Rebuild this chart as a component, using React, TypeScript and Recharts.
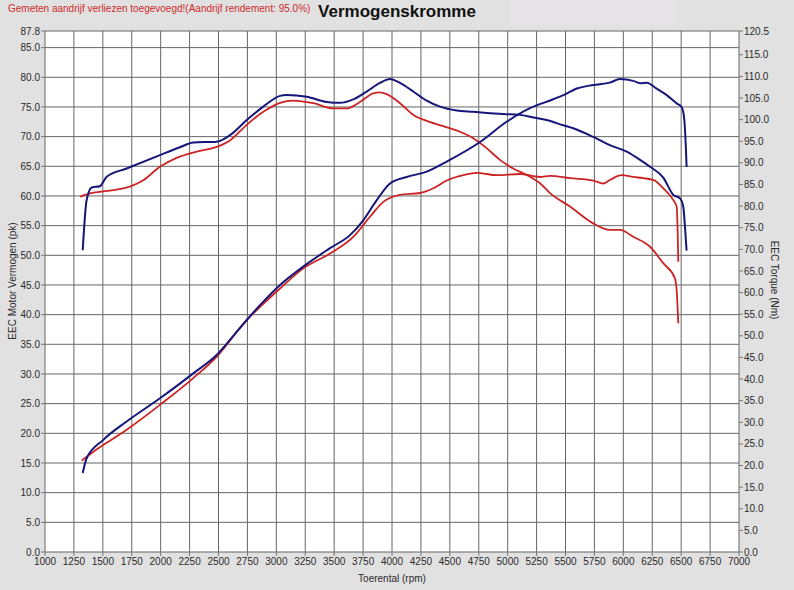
import { LineChart, Line, XAxis, YAxis, CartesianGrid } from 'recharts';

const X_TICKS = [1000, 1250, 1500, 1750, 2000, 2250, 2500, 2750, 3000, 3250, 3500, 3750, 4000, 4250, 4500, 4750, 5000, 5250, 5500, 5750, 6000, 6250, 6500, 6750, 7000];
const PK_TICKS = [0, 5, 10, 15, 20, 25, 30, 35, 40, 45, 50, 55, 60, 65, 70, 75, 80, 85, 87.8];
const NM_TICKS = [0, 5, 10, 15, 20, 25, 30, 35, 40, 45, 50, 55, 60, 65, 70, 75, 80, 85, 90, 95, 100, 105, 110, 115, 120.5];

// [rpm, pk]
const BLUE_POWER: [number, number][] = [
  [1326, 13.3], [1360, 15.8], [1504, 18.9], [1706, 22.0], [1994, 25.9], [2282, 30.1],
  [2484, 33.2], [2657, 37.1], [2859, 41.6], [3032, 45.0], [3233, 48.1], [3464, 51.2],
  [3637, 53.4], [3752, 55.9], [3868, 59.3], [3983, 62.1], [4127, 63.2], [4300, 64.1],
  [4473, 65.8], [4761, 69.1], [4991, 72.5], [5193, 74.8], [5394, 76.3], [5481, 77.0],
  [5597, 78.1], [5740, 78.7], [5884, 79.1], [5971, 79.7], [6086, 79.4], [6145, 79.0],
  [6202, 79.1], [6288, 78.1], [6375, 77.0], [6461, 75.6], [6504, 75.0], [6524, 73.4],
  [6539, 68.9], [6547, 64.9],
];

const RED_POWER: [number, number][] = [
  [1317, 15.4], [1418, 16.9], [1706, 20.6], [1994, 24.8], [2282, 29.3], [2484, 32.9],
  [2744, 39.1], [2859, 41.3], [3032, 44.4], [3233, 47.8], [3464, 50.3], [3665, 53.1],
  [3810, 56.5], [3925, 59.0], [4069, 60.2], [4242, 60.5], [4357, 61.3], [4473, 62.6],
  [4617, 63.5], [4732, 63.9], [4905, 63.5], [5106, 63.7], [5279, 63.2], [5366, 63.4],
  [5539, 63.0], [5740, 62.6], [5826, 62.1], [5884, 62.7], [5985, 63.5], [6086, 63.2],
  [6172, 63.0], [6259, 62.7], [6345, 61.3], [6432, 59.3], [6461, 58.2], [6470, 53.7],
  [6475, 48.9],
];

// [rpm, Nm]
const BLUE_TORQUE: [number, number][] = [
  [1326, 69.8], [1360, 81.4], [1404, 84.3], [1475, 84.6], [1533, 86.8], [1706, 88.7],
  [1994, 91.8], [2167, 93.6], [2282, 94.7], [2484, 94.9], [2599, 96.4], [2744, 99.9],
  [2887, 103.0], [3032, 105.5], [3090, 105.7], [3262, 105.3], [3435, 104.1], [3550, 103.9],
  [3665, 104.7], [3781, 106.5], [3896, 108.5], [3982, 109.4], [4069, 108.5], [4184, 106.5],
  [4300, 104.4], [4415, 103.0], [4559, 102.1], [4703, 101.8], [4847, 101.5], [4962, 101.3],
  [5106, 101.1], [5221, 100.5], [5337, 99.9], [5481, 98.7], [5567, 98.0], [5740, 96.0],
  [5884, 94.1], [6029, 92.6], [6145, 90.7], [6231, 89.1], [6345, 86.6], [6432, 82.6],
  [6490, 81.8], [6518, 79.9], [6533, 75.2], [6547, 69.7],
];

const RED_TORQUE: [number, number][] = [
  [1303, 82.2], [1418, 83.1], [1562, 83.6], [1677, 84.1], [1850, 86.0], [1994, 89.1],
  [2133, 91.1], [2311, 92.6], [2484, 93.7], [2599, 95.2], [2744, 98.8], [2887, 101.8],
  [3032, 103.9], [3147, 104.4], [3319, 103.8], [3492, 102.6], [3608, 102.6], [3723, 104.1],
  [3838, 106.1], [3896, 106.3], [3954, 105.9], [4069, 103.8], [4184, 101.1], [4300, 99.7],
  [4443, 98.5], [4588, 97.2], [4703, 95.7], [4818, 93.4], [4933, 90.7], [5048, 88.7],
  [5164, 87.2], [5279, 85.3], [5366, 83.0], [5539, 79.9], [5740, 76.0], [5884, 74.5],
  [5971, 74.5], [6086, 72.9], [6231, 70.6], [6345, 66.8], [6446, 63.3], [6461, 60.6],
  [6475, 52.9],
];

const BLUE = '#16167a';
const RED = '#cc2424';
const FONT = '"Liberation Sans", Arial, sans-serif';

const rows = (pts: [number, number][]) => pts.map(([rpm, v]) => ({ rpm, v }));
const fmt = (v: number) => v.toFixed(1);

const tickStyle = { fontSize: 10, fill: '#2a2a2a', fontFamily: FONT };

export default function App() {
  return (
    <div style={{ position: 'absolute', left: 0, top: 0, width: 794, height: 590, background: '#e1e1e1', fontFamily: FONT, overflow: 'hidden' }}>
      <div style={{ position: 'absolute', left: 510, top: 0, width: 165, height: 25, background: '#e6e4e6' }} />
      <LineChart width={794} height={590} margin={{ top: 31, right: 0, bottom: 0, left: 0 }}>
        <CartesianGrid yAxisId="pk" fill="#fff" stroke="#666" strokeWidth={1} />
        <XAxis
          dataKey="rpm"
          type="number"
          domain={[1000, 7000]}
          ticks={X_TICKS}
          allowDuplicatedCategory={false}
          height={38}
          axisLine={false}
          tickSize={4}
          tickLine={{ stroke: '#777' }}
          tick={tickStyle}
          interval={0}
        />
        <YAxis
          yAxisId="pk"
          domain={[0, 87.8]}
          ticks={PK_TICKS}
          width={45}
          axisLine={false}
          tickSize={4}
          tickMargin={1}
          tickLine={{ stroke: '#777' }}
          tick={tickStyle}
          tickFormatter={fmt}
          interval={0}
        />
        <YAxis
          yAxisId="nm"
          orientation="right"
          domain={[0, 120.5]}
          ticks={NM_TICKS}
          width={55}
          axisLine={false}
          tickSize={4}
          tickMargin={1}
          tickLine={{ stroke: '#777' }}
          tick={tickStyle}
          tickFormatter={fmt}
          interval={0}
        />
        <Line yAxisId="nm" data={rows(RED_TORQUE)} dataKey="v" type="monotone" stroke={RED} strokeWidth={1.8} dot={false} isAnimationActive={false} />
        <Line yAxisId="pk" data={rows(RED_POWER)} dataKey="v" type="monotone" stroke={RED} strokeWidth={1.8} dot={false} isAnimationActive={false} />
        <Line yAxisId="nm" data={rows(BLUE_TORQUE)} dataKey="v" type="monotone" stroke={BLUE} strokeWidth={2} dot={false} isAnimationActive={false} />
        <Line yAxisId="pk" data={rows(BLUE_POWER)} dataKey="v" type="monotone" stroke={BLUE} strokeWidth={2} dot={false} isAnimationActive={false} />
      </LineChart>
      <div style={{ position: 'absolute', left: 8, top: 3, fontSize: 10, color: '#d02a2a', whiteSpace: 'nowrap' }}>
        Gemeten aandrijf verliezen toegevoegd!(Aandrijf rendement: 95.0%)
      </div>
      <div style={{ position: 'absolute', left: 397, top: 12, transform: 'translate(-50%, -50%)', fontSize: 17, fontWeight: 'bold', color: '#111', whiteSpace: 'nowrap' }}>
        Vermogenskromme
      </div>
      <div style={{ position: 'absolute', left: 12, top: 281, transform: 'translate(-50%, -50%) rotate(-90deg)', fontSize: 10, color: '#2a2a2a', whiteSpace: 'nowrap' }}>
        EEC Motor Vermogen (pk)
      </div>
      <div style={{ position: 'absolute', left: 774, top: 280, transform: 'translate(-50%, -50%) rotate(90deg)', fontSize: 10, color: '#2a2a2a', whiteSpace: 'nowrap' }}>
        EEC Torque (Nm)
      </div>
      <div style={{ position: 'absolute', left: 392, top: 578, transform: 'translate(-50%, -50%)', fontSize: 10, color: '#2a2a2a', whiteSpace: 'nowrap' }}>
        Toerental (rpm)
      </div>
    </div>
  );
}
